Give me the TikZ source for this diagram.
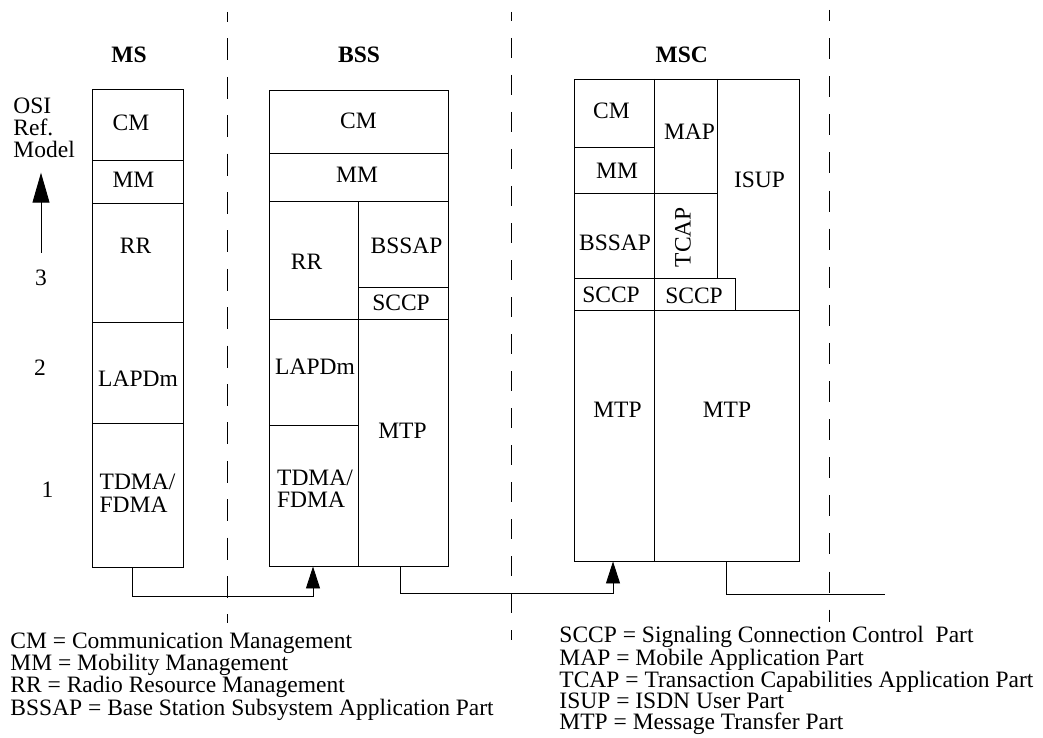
\documentclass[tikz,border=0pt]{standalone}
\usepackage{fontspec}
\setmainfont{Liberation Serif}
\usetikzlibrary{arrows.meta}

\begin{document}
\begin{tikzpicture}[x=1pt, y=-1pt,
    font=\fontsize{23.5}{21}\selectfont, line width=0.9pt,
    stack/.style={draw, inner sep=0pt},
    lbl/.style={inner sep=0pt},
    two/.style={lbl, align=left, font=\fontsize{23.5}{22.5}\selectfont},
    hdr/.style={lbl, font=\fontsize{23.5}{21}\selectfont\bfseries},
    key/.style={lbl, align=left, anchor=north west},
    sep/.style={line width=0.8pt, dash pattern=on 22pt off 16.4pt, dash phase=12pt},
    tip/.style={-{Triangle[length=22pt, width=14pt]}}]
  \useasboundingbox (0,0) rectangle (1043,738);
  \node[stack, minimum width=91pt, minimum height=478pt] (ms) at (137.5,328) {};
  \node[stack, minimum width=179pt, minimum height=476pt] (bss) at (358.5,328) {};
  \node[stack, minimum width=225pt, minimum height=482pt] (msc) at (686.5,320) {};
  \node[hdr] (mshd) at (129,54.5) {MS};
  \node[hdr] (bsshd) at (359,54.5) {BSS};
  \node[hdr] (mschd) at (681.7,54.5) {MSC};
  \node[key, font=\fontsize{23.5}{22}\selectfont] (osi) at (13,97) {OSI\\Ref.\\Model};
  \node[lbl] (l3) at (41,277.5) {3};
  \node[lbl] (l2) at (40,367.5) {2};
  \node[lbl] (l1) at (47.5,489.5) {1};
  \draw[-{Triangle[length=30pt, width=17pt]}, shorten <=16.6pt, shorten >=15pt] (l3.north) -- (l3.north |- osi.south);
  % MS layers
  \draw (92,160) -- (183,160) (92,203) -- (183,203) (92,322) -- (183,322) (92,423) -- (183,423);
  \node[lbl] (mscm) at (131,122.5) {CM};
  \node[lbl] (msmm) at (133.5,180) {MM};
  \node[lbl] (msrr) at (135.5,245.5) {RR};
  \node[lbl] (mslap) at (138,379) {LAPDm};
  \node[two] (msphy) at (137.5,493.5) {TDMA/\\FDMA};
  % BSS layers
  \draw (269,153) -- (448,153) (269,201) -- (448,201) (358,201) -- (358,566)
        (358,287) -- (448,287) (269,319) -- (448,319) (269,425) -- (358,425);
  \node[lbl] (bsscm) at (358.5,120.5) {CM};
  \node[lbl] (bssmm) at (357,174.5) {MM};
  \node[lbl] (bssrr) at (306.5,262) {RR};
  \node[lbl] (bssap) at (406.5,245.5) {BSSAP};
  \node[lbl] (bsssccp) at (401,302.5) {SCCP};
  \node[lbl] (bsslap) at (315,366.5) {LAPDm};
  \node[two] (bssphy) at (315,489) {TDMA/\\FDMA};
  \node[lbl] (bssmtp) at (402.5,431) {MTP};
  % MSC layers
  \draw (654,79) -- (654,561) (717,79) -- (717,278) (735,278) -- (735,310)
        (574,147) -- (654,147) (574,193) -- (717,193) (574,278) -- (735,278) (574,310) -- (799,310);
  \node[lbl] (msccm) at (611.5,111) {CM};
  \node[lbl] (mscmm) at (617,170.5) {MM};
  \node[lbl] (mscmap) at (689.5,132) {MAP};
  \node[lbl] (mscisup) at (759.5,180) {ISUP};
  \node[lbl] (mscbssap) at (615,243) {BSSAP};
  \node[lbl, rotate=90] (msctcap) at (683,237) {TCAP};
  \node[lbl] (mscsccpa) at (611,294.5) {SCCP};
  \node[lbl] (mscsccpb) at (694,296) {SCCP};
  \node[lbl] (mscmtpa) at (617.5,409.5) {MTP};
  \node[lbl] (mscmtpb) at (727,409.5) {MTP};
  % links
  \coordinate (trunk) at (885,594);
  \draw[tip] ([xshift=-5.5pt]ms.south) -- ++(0,29) -| ([xshift=-45.5pt]bss.south);
  \draw[tip] ([xshift=41.5pt]bss.south) -- ++(0,27) -| ([xshift=-73.5pt]msc.south);
  \draw ([xshift=39.5pt]msc.south) |- (trunk);
  \draw[sep] (227,12) -- (227,623);
  \draw[sep, dash pattern=on 20pt off 17pt, dash phase=11pt] (511,12) -- (511,640);
  \draw[sep, dash pattern=on 21pt off 17.1pt, dash phase=10pt] (829,10) -- (829,622);
  \node[key] (keyl) at (10,632) {CM = Communication Management\\MM = Mobility Management\\RR = Radio Resource Management\\BSSAP = Base Station Subsystem Application Part};
  \node[key] (keyr) at (559,626) {SCCP = Signaling Connection Control\ \ Part\\MAP = Mobile Application Part\\TCAP = Transaction Capabilities Application Part\\ISUP = ISDN User Part\\MTP = Message Transfer Part};
\end{tikzpicture}
\end{document}
